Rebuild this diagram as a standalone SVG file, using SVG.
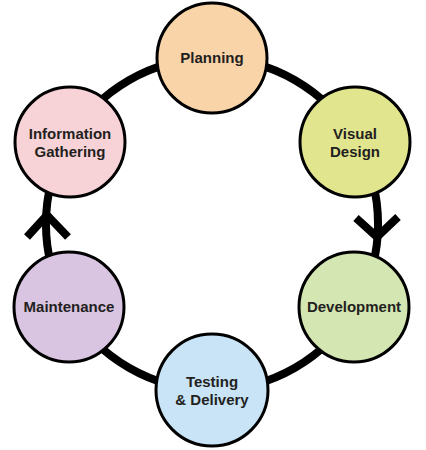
<svg xmlns="http://www.w3.org/2000/svg" width="426" height="450" viewBox="0 0 426 450">
<style>
.ring{fill:none;stroke:#000;stroke-width:8}
.arrow{fill:none;stroke:#000;stroke-width:8;stroke-linejoin:miter;stroke-linecap:butt}
.node{stroke:#000;stroke-width:3}
.lbl{font-family:"Liberation Sans",Arial,sans-serif;font-weight:bold;font-size:15px;fill:#231f20;text-anchor:middle}
</style>
<rect width="426" height="450" fill="#fff"/>
<g id="connectors">
<path class="ring" d="M212 58 A166 166 0 0 1 355.8 141"/>
<path class="ring" d="M355.8 141 A166 166 0 0 1 355.8 307"/>
<path class="ring" d="M355.8 307 A166 166 0 0 1 212 390"/>
<path class="ring" d="M212 390 A166 166 0 0 1 68.2 307"/>
<path class="ring" d="M68.2 307 A166 166 0 0 1 68.2 141"/>
<path class="ring" d="M68.2 141 A166 166 0 0 1 212 58"/>
<polyline class="arrow" points="356,218 377,237 398,217"/>
<polyline class="arrow" points="27,237 47,215 68,237"/>
</g>
<g id="planning">
<circle class="node" cx="212" cy="58" r="55" fill="#f9d4a9"/>
<text class="lbl" x="212" y="63">Planning</text>
</g>
<g id="visual-design">
<circle class="node" cx="355" cy="142" r="55" fill="#e1e58e"/>
<text class="lbl" x="355" y="139">Visual</text>
<text class="lbl" x="355" y="157">Design</text>
</g>
<g id="development">
<circle class="node" cx="354" cy="307" r="55" fill="#d4e6b1"/>
<text class="lbl" x="354" y="312">Development</text>
</g>
<g id="testing-delivery">
<circle class="node" cx="212" cy="390" r="56" fill="#c8e4f6"/>
<text class="lbl" x="212" y="387">Testing</text>
<text class="lbl" x="212" y="405">&amp; Delivery</text>
</g>
<g id="maintenance">
<circle class="node" cx="69" cy="307" r="55" fill="#d9c4e1"/>
<text class="lbl" x="69" y="312">Maintenance</text>
</g>
<g id="information-gathering">
<circle class="node" cx="70" cy="142" r="55" fill="#f7d3d7"/>
<text class="lbl" x="70" y="139">Information</text>
<text class="lbl" x="70" y="157">Gathering</text>
</g>
</svg>
